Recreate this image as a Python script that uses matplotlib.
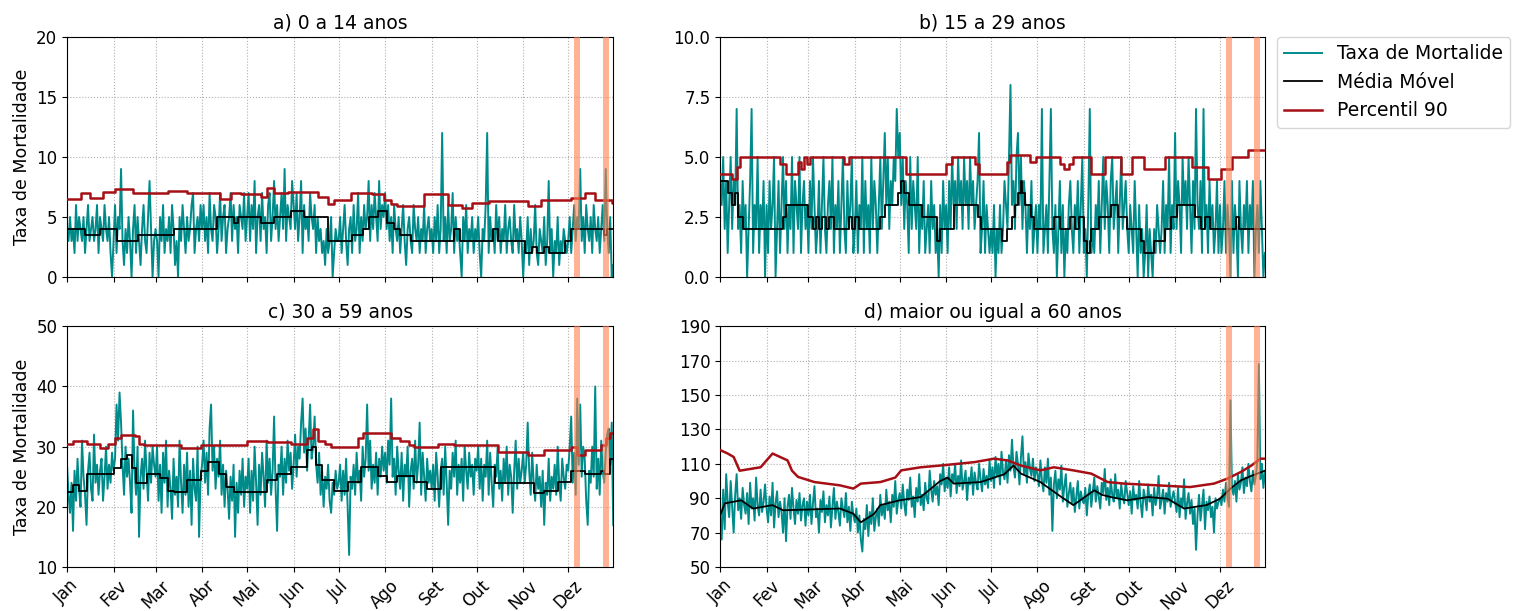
import numpy as np
import pandas as pd
import matplotlib
matplotlib.use('Agg')
import matplotlib.pyplot as plt

# daily rates (2019, 365 days)
taxa_a = [4,3,5,3,4,2,6,3,5,4,3,5,2,4,6,3,4,5,3,4,6,2,5,4,3,6,4,3,5,2,0,
          3,6,2,5,4,9,3,1,4,2,5,3,0,4,6,2,5,3,1,4,6,3,2,5,8,4,0,3,
          4,3,0,5,3,6,2,4,3,5,2,6,4,1,3,0,5,3,6,4,2,5,3,4,6,7,2,4,5,3,6,
          4,6,3,5,2,7,4,3,6,5,2,4,7,3,5,6,2,4,5,7,3,6,4,5,2,6,5,4,7,3,
          5,7,3,6,4,8,2,5,6,3,7,4,5,2,6,7,3,5,8,4,6,3,5,7,4,9,3,6,5,4,8,
          6,4,7,3,5,8,2,6,4,5,3,7,5,4,6,2,5,3,4,2,3,1,4,2,3,5,0,2,4,3,
          3,5,2,4,6,3,1,4,5,2,6,3,4,7,2,5,3,6,4,5,8,3,6,4,7,5,3,8,4,6,5,
          7,4,6,3,5,2,6,4,3,5,2,4,6,3,1,4,5,3,2,6,4,3,5,2,4,3,6,2,4,5,3,
          4,2,5,3,6,2,4,12,3,5,2,6,3,4,7,2,5,3,4,2,0,5,3,6,2,4,3,5,2,4,
          3,5,2,0,4,3,6,12,2,5,3,4,2,6,3,5,2,4,3,6,2,4,5,3,2,6,3,4,2,5,3,
          0,3,2,5,1,4,2,3,6,2,1,4,3,2,5,1,3,8,2,4,0,3,2,5,1,3,2,4,3,2,
          3,5,2,4,6,3,5,4,9,3,5,2,6,4,3,5,2,6,4,3,5,2,4,6,3,9,4,2,5,0,1]

taxa_b = [4,3,5,2,4,1,3,5,2,4,3,7,2,3,1,4,2,3,0,2,4,7,1,3,2,5,1,3,2,4,0,
          3,1,4,2,3,5,0,2,4,1,3,5,2,4,1,3,2,5,1,4,3,2,5,1,3,4,2,3,
          1,4,2,5,3,1,2,4,1,3,5,2,1,3,4,2,5,1,3,2,4,1,3,5,2,1,4,2,3,5,1,
          2,4,1,3,2,5,1,4,2,3,1,5,2,4,3,1,3,5,2,4,6,3,5,2,4,3,5,4,7,5,
          6,3,5,2,4,3,1,5,2,4,3,2,5,1,3,2,4,1,2,3,1,4,2,3,1,2,0,3,1,4,2,
          3,1,4,2,5,3,4,2,5,3,4,2,5,3,4,2,5,3,4,2,3,4,6,1,2,4,1,3,2,1,
          2,1,3,0,2,1,3,1,2,4,3,2,5,8,3,4,2,5,6,3,5,2,4,3,1,3,2,4,1,2,3,
          1,3,2,7,1,2,3,1,4,7,2,1,3,0,2,4,1,3,0,2,1,3,4,2,1,3,2,4,1,3,5,
          1,2,0,3,7,1,2,1,3,2,4,1,3,5,2,4,3,1,4,5,2,3,4,1,3,5,2,3,4,2,
          1,3,2,1,4,2,0,3,1,2,0,1,3,0,2,1,0,2,1,3,2,1,2,4,1,3,2,5,1,3,2,
          6,2,4,3,1,5,3,4,2,5,3,1,4,2,7,3,2,4,1,7,2,3,1,4,2,3,1,2,4,1,
          3,1,2,4,1,3,2,0,4,1,3,2,0,4,2,1,3,2,4,1,3,2,4,0,2,3,1,4,2,0,1]

taxa_c = [27,22,19,24,16,26,21,28,23,20,31,25,22,17,26,29,23,21,32,24,27,22,26,28,21,25,30,23,27,24,29,
          26,28,37,31,39,34,27,22,30,25,28,24,19,36,26,22,30,15,25,28,23,31,26,21,29,24,30,27,
          25,30,21,27,19,29,24,31,20,26,23,18,28,22,25,20,31,24,19,27,22,29,20,26,17,28,23,21,30,15,25,
          27,31,24,29,22,33,37,26,30,23,28,25,31,22,27,20,26,23,18,25,21,27,15,24,19,26,22,28,20,25,
          23,28,19,26,21,30,24,17,27,22,29,25,20,31,24,28,22,26,35,23,16,27,25,30,22,28,24,31,26,29,23,
          27,32,25,30,28,34,38,29,33,26,31,37,28,30,35,27,24,29,22,26,20,25,23,27,21,19,24,22,26,23,
          24,27,21,26,22,28,20,12,25,23,27,22,29,24,26,21,30,25,28,37,26,31,23,27,24,29,22,28,25,30,26,
          29,24,31,27,38,25,28,22,30,26,23,29,21,27,25,30,20,26,28,23,31,24,27,34,22,29,25,21,28,24,26,
          23,27,21,29,25,20,26,28,22,30,24,17,26,23,29,25,31,22,27,24,28,21,30,26,23,29,25,27,22,28,
          26,30,23,28,21,27,25,31,22,29,24,20,27,25,30,23,26,21,28,24,30,22,27,25,19,26,31,23,28,24,26,
          29,24,27,34,26,22,29,24,21,27,23,25,20,26,17,24,22,28,21,25,23,27,22,30,24,21,28,25,23,27,
          26,30,35,24,29,22,38,27,37,25,30,28,21,17,26,24,30,25,40,23,28,22,31,26,24,29,32,33,27,34,17]

taxa_d = [80,66,95,72,104,88,79,100,85,70,92,104,83,90,78,96,86,81,93,75,99,84,90,77,102,86,80,95,82,88,98,
          84,76,91,80,99,73,87,94,79,88,82,70,90,65,85,92,78,96,84,75,89,81,93,77,86,90,74,88,
          80,92,75,87,97,79,84,70,89,82,94,76,86,80,91,73,85,96,78,88,82,74,90,84,79,93,76,85,71,88,80,
          76,84,70,80,66,59,78,72,86,68,82,75,90,71,79,84,74,92,80,86,78,95,83,88,76,92,85,100,81,89,
          93,84,98,87,80,95,89,102,85,91,79,96,88,104,86,92,83,99,90,87,106,95,88,100,92,97,86,104,98,110,94,
          102,96,108,91,104,99,110,93,103,97,112,95,100,106,89,102,98,108,92,105,99,95,110,101,94,107,98,103,96,112,
          100,108,96,114,103,110,98,117,105,101,112,99,115,106,124,108,102,117,110,98,114,126,104,111,99,116,107,103,113,100,108,
          104,97,112,100,94,108,99,113,92,102,71,98,106,90,101,95,109,88,97,104,85,93,99,87,96,82,91,100,84,94,89,
          87,96,80,92,98,85,94,102,88,97,91,84,99,93,107,89,96,86,101,92,88,104,90,95,84,98,91,87,100,93,
          86,94,81,97,89,92,84,100,87,79,95,90,83,98,88,92,80,96,86,91,103,84,89,95,81,93,88,99,85,90,94,
          88,82,96,79,90,85,101,78,87,93,81,89,75,84,60,80,92,77,86,95,72,88,83,91,79,85,70,90,84,88,
          90,86,95,88,99,91,85,147,96,92,100,88,104,95,99,108,93,102,97,110,100,94,106,98,103,112,168,101,110,96,105]

# moving average / percentile 90: (day of year, value) where the level changes
media_a_dias = [0,12,22,33,47,71,100,111,114,129,138,149,158,174,190,197,201,207,213,218,222,229,258,262,284,287,305,310,313,318,321,332,336,358,360]
media_a_vals = [4,3.5,4,3,3.5,4,5,4.5,5,4.5,5,5.5,5,3,3.5,4,5,5.5,4.5,4,3.5,3,4,3,4,3,2,2.5,2,2.5,2,3,4,3.5,4]
p90_a_dias = [0,9,15,24,32,44,67,80,102,109,116,129,133,138,147,167,174,178,189,203,211,216,220,238,247,254,263,270,281,307,316,336,345,352,363]
p90_a_vals = [6.5,7,6.6,7.1,7.3,7,7.2,7,6.5,7,6.9,6.7,7.4,7,7.1,6.7,6.1,6.4,7,6.9,6.4,6.1,5.9,6.9,6.9,6,5.75,6.2,6.3,5.9,6.4,6.6,7,6.4,6.2]

media_b_dias = [0,5,8,10,12,15,42,44,59,62,64,66,68,71,73,76,86,88,90,93,107,110,119,121,123,126,135,145,147,156,172,174,188,192,195,197,199,201,202,204,208,210,223,227,234,237,240,243,245,247,248,253,261,266,272,281,283,290,297,301,305,317,321,324,327,345,347]
media_b_vals = [4,3.5,3,3.5,2.5,2,2.5,3,2.5,2,2.5,2,2.5,2,2.5,2,2.5,2,2.5,2,2.5,3,3.5,4,3.5,3,2.5,1.5,2,3,2.5,2,1.5,2,2.5,3,3.5,4,3.5,3,2.5,2,2.5,2,2.5,2,2.5,1.5,1,1.5,2,2.5,3,2.5,2,1.5,1,1.5,2,2.5,3,2.5,2,2.5,2,2.5,2]
p90_b_dias = [0,8,11,13,40,44,52,54,56,58,60,83,86,124,151,155,170,173,192,194,207,211,227,230,233,236,248,257,268,275,283,297,315,326,335,342,353]
p90_b_vals = [4.3,4.1,4.6,5,4.7,4.3,4.8,4.5,5,4.7,5,4.7,5,4.3,4.7,5,4.7,4.3,4.8,5.1,4.8,5,4.7,4.5,4.7,5,4.3,5,4.3,5,4.5,5,4.6,4.1,4.5,5,5.3]

media_c_dias = [0,4,8,13,31,36,40,43,46,53,62,67,71,80,89,94,101,106,111,133,140,149,160,163,166,170,178,187,196,207,213,220,231,240,249,285,311,318,327,336,345,356,358,362]
media_c_vals = [22.5,23.6,22.7,25.5,26.5,28,28.6,26.5,24,25.5,24.8,22.7,22.5,24.4,26,27.5,25.5,23.3,22.5,24.4,25.5,26.6,29.4,30,27,24.4,22.7,24.1,26.6,25.2,24.1,25.2,24.1,23,26.6,24,22.3,22.7,24.1,26,25.5,26,25.5,28]
p90_c_dias = [0,4,13,22,27,32,36,45,48,51,76,89,120,133,149,160,164,167,172,176,194,197,216,222,228,231,247,258,287,307,318,336,340,345,356,359,362]
p90_c_vals = [30.5,31,30.5,29.7,30.5,31.5,32,31.7,30.5,30.2,29.7,30.2,31,30.8,30.5,31.5,33,31,30.5,30,31.5,32.2,31.5,31,30.3,30,30.4,30.2,29.1,28.6,29.4,30,28.6,29.4,30.2,31.5,32.2]

media_d_dias = [0,3,14,22,35,42,80,89,94,103,107,120,134,147,152,156,174,190,196,201,214,228,236,250,255,261,272,286,299,310,325,334,341,348,355,364]
media_d_vals = [80,87,88.8,84,86,83,84,81,76,81,86,88.8,90.7,100,102,98.5,99.4,104,109,104.3,99.4,90.7,86,94.6,92,90.7,88.8,90.7,89.7,84,86,89.7,95.6,100.4,103,106]
p90_d_dias = [0,5,9,11,13,27,31,35,45,48,52,63,80,89,94,107,117,121,134,147,170,183,192,201,214,223,236,248,259,270,292,314,330,339,348,355,361]
p90_d_vals = [118,116,114,110,106,108,112,116,112,106,102.4,99.4,97.5,95.6,98.5,99.4,102,106.2,108,109,111,113,112,109,106.2,108,106.2,104.3,99.4,98.5,97.5,96.5,98.5,101.4,105.3,109,113]

meses = ['Jan', 'Fev', 'Mar', 'Abr', 'Mai', 'Jun', 'Jul', 'Ago', 'Set', 'Out', 'Nov', 'Dez']
titulos = ['a) 0 a 14 anos', 'b) 15 a 29 anos', 'c) 30 a 59 anos', 'd) maior ou igual a 60 anos']
destaques = [('2019-12-05', '2019-12-09'), ('2019-12-24', '2019-12-28')]

inicio = pd.Timestamp('2019-01-01')
datas = pd.date_range('2019-01-01', '2019-12-31', freq='D')


def to_dates(dias):
    return inicio + pd.to_timedelta(dias, unit='D')


def painel(ax, taxa, m_dias, m_vals, p_dias, p_vals, degrau):
    ds = 'steps-post' if degrau else 'default'
    m_dias = list(m_dias) + [364]
    m_vals = list(m_vals) + [m_vals[-1]]
    p_dias = list(p_dias) + [364]
    p_vals = list(p_vals) + [p_vals[-1]]
    ax.plot(datas, taxa, color='darkcyan', lw=1.4, label='Taxa de Mortalide', zorder=2)
    ax.plot(to_dates(m_dias), m_vals, color='black', lw=1.3, drawstyle=ds, label='Média Móvel', zorder=3)
    ax.plot(to_dates(p_dias), p_vals, color='#a50f15', lw=1.8, drawstyle=ds, label='Percentil 90', zorder=4)
    for ini, fim in destaques:
        ax.axvspan(pd.Timestamp(ini), pd.Timestamp(fim), color='coral', alpha=0.6, lw=0, zorder=5)
    ax.set_xlim(inicio, pd.Timestamp('2019-12-31'))
    ax.set_xticks(pd.date_range('2019-01-01', periods=12, freq='MS'))
    ax.grid(True, linestyle=':', color='#b0b0b0', lw=0.8)
    ax.tick_params(labelsize=12)


fig = plt.figure(figsize=(15.13, 6.11), dpi=100)
ax_a = fig.add_axes([0.0443, 0.5466, 0.361, 0.393])
ax_b = fig.add_axes([0.476, 0.5466, 0.360, 0.393])
ax_c = fig.add_axes([0.0443, 0.072, 0.361, 0.394])
ax_d = fig.add_axes([0.476, 0.072, 0.360, 0.394])

painel(ax_a, taxa_a, media_a_dias, media_a_vals, p90_a_dias, p90_a_vals, True)
painel(ax_b, taxa_b, media_b_dias, media_b_vals, p90_b_dias, p90_b_vals, True)
painel(ax_c, taxa_c, media_c_dias, media_c_vals, p90_c_dias, p90_c_vals, True)
painel(ax_d, taxa_d, media_d_dias, media_d_vals, p90_d_dias, p90_d_vals, False)

ax_a.set_ylim(0, 20)
ax_a.set_yticks([0, 5, 10, 15, 20])
ax_b.set_ylim(0, 10)
ax_b.set_yticks([0, 2.5, 5, 7.5, 10])
ax_b.set_yticklabels(['0.0', '2.5', '5.0', '7.5', '10.0'])
ax_c.set_ylim(10, 50)
ax_c.set_yticks([10, 20, 30, 40, 50])
ax_d.set_ylim(50, 190)
ax_d.set_yticks(np.arange(50, 191, 20))

for ax, t in zip([ax_a, ax_b, ax_c, ax_d], titulos):
    ax.set_title(t, fontsize=13.5)
for ax in [ax_a, ax_b]:
    ax.set_xticklabels([])
for ax in [ax_c, ax_d]:
    ax.set_xticklabels(meses, rotation=45)
for ax in [ax_a, ax_c]:
    ax.set_ylabel('Taxa de Mortalidade', fontsize=12.5)

ax_b.legend(loc='upper left', bbox_to_anchor=(1.022, 1.0), borderaxespad=0, fontsize=13.5)

fig.savefig('out.png', dpi=100)
